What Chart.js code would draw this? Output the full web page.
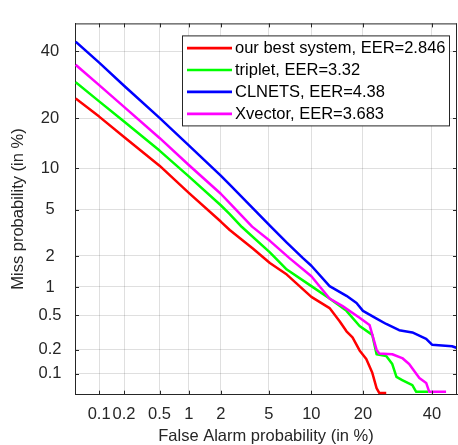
<!DOCTYPE html>
<html><head><meta charset="utf-8">
<script src="https://cdn.jsdelivr.net/npm/chart.js@4/dist/chart.umd.min.js"></script>
<style>html,body{margin:0;padding:0;background:#fff}#wrap{width:458px;height:445px;position:relative}</style>
</head><body><div id="wrap"><canvas id="c" width="458" height="445"></canvas></div>
<script>
// ---- data (percent) ----
const seriesNames = ['our best system, EER=2.846', 'triplet, EER=3.32', 'CLNETS, EER=4.38', 'Xvector, EER=3.683'];
const seriesColors = ['#ff0000', '#00ff00', '#0000ff', '#ff00ff'];

const bestFA   = [0.05,0.1,0.2,0.5,1,2,2.4,3.75,5.1,6.8,10,13,14.9,16.3,17.6,19.2,20.8,22.3,23.4,24.1,26.0];
const bestMiss = [25.2,20.4,15.7,10.4,6.7,4.0,3.4,2.34,1.72,1.33,0.79,0.60,0.43,0.33,0.28,0.196,0.154,0.103,0.065,0.056,0.056];

const tripletFA   = [0.05,0.1,0.2,0.5,1,2,2.4,3.05,5.1,6.8,10,13,16.3,19.2,22.3,23.4,26.0,27.7,28.9,30.6,33.7,34.9,38.75];
const tripletMiss = [30.0,24.4,19.2,13.0,8.8,5.4,4.6,3.6,2.16,1.49,1.02,0.76,0.56,0.38,0.30,0.176,0.167,0.133,0.091,0.083,0.071,0.058,0.058];

const clnetsFA   = [0.05,0.1,0.2,0.5,1,2,2.4,5.1,6.8,8.8,10,13,16.3,18.5,20,23.4,26,29.7,33.7,38.1,40,46.7,48.4];
const clnetsMiss = [43.3,36.2,28.9,20.1,14.0,8.9,7.7,3.7,2.64,1.91,1.62,1.02,0.81,0.68,0.56,0.46,0.40,0.34,0.32,0.27,0.23,0.22,0.21];

const xvectorFA   = [0.05,0.1,0.2,0.5,1,2,2.4,3.7,5.1,7.1,10,13,15.5,19.2,21.6,23.4,24.1,27.7,30.6,32.7,35.9,38.1,39.1,44.7];
const xvectorMiss = [35.5,29.1,22.9,15.5,10.5,6.6,5.6,3.63,2.74,1.91,1.28,0.76,0.63,0.47,0.39,0.2,0.18,0.176,0.158,0.133,0.088,0.076,0.058,0.058];

const tickLabels = [0.1,0.2,0.5,1,2,5,10,20,40];
const xLimits = [0.049, 48.4];
const yLimits = [0.053, 49.7];

// ---- normal deviate (probit) transform for DET axes ----
function probit(p){
  const a=[-3.969683028665376e+01,2.209460984245205e+02,-2.759285104469687e+02,1.383577518672690e+02,-3.066479806614716e+01,2.506628277459239e+00];
  const b=[-5.447609879822406e+01,1.615858368580409e+02,-1.556989798598866e+02,6.680131188771972e+01,-1.328068155288572e+01];
  const c=[-7.784894002430293e-03,-3.223964580411365e-01,-2.400758277161838e+00,-2.549732539343734e+00,4.374664141464968e+00,2.938163982698783e+00];
  const d=[7.784695709041462e-03,3.224671290700398e-01,2.445134137142996e+00,3.754408661907416e+00];
  const pl=0.02425, ph=1-pl; let q,r;
  if(p<pl){q=Math.sqrt(-2*Math.log(p));return (((((c[0]*q+c[1])*q+c[2])*q+c[3])*q+c[4])*q+c[5])/((((d[0]*q+d[1])*q+d[2])*q+d[3])*q+1);}
  if(p<=ph){q=p-0.5;r=q*q;return (((((a[0]*r+a[1])*r+a[2])*r+a[3])*r+a[4])*r+a[5])*q/(((((b[0]*r+b[1])*r+b[2])*r+b[3])*r+b[4])*r+1);}
  q=Math.sqrt(-2*Math.log(1-p));return -(((((c[0]*q+c[1])*q+c[2])*q+c[3])*q+c[4])*q+c[5])/((((d[0]*q+d[1])*q+d[2])*q+d[3])*q+1);
}
const pct = v => probit(v/100);
const toPts = (fa, miss) => fa.map((v,i)=>({x:pct(v), y:pct(miss[i])}));

const allFA = [bestFA, tripletFA, clnetsFA, xvectorFA];
const allMiss = [bestMiss, tripletMiss, clnetsMiss, xvectorMiss];
const drawOrder = [3,2,1,0];

const FONT = '"Liberation Sans", Arial, Helvetica, sans-serif';
const FS = 16.5;
const AX = '#262626';

const framePlugin = {
  id:'frame',
  afterDatasetsDraw(chart){
    const {ctx, chartArea:a, scales} = chart;
    ctx.save();
    ctx.strokeStyle = AX; ctx.lineWidth = 1;
    ctx.beginPath();
    ctx.moveTo(a.left, a.top+0.5); ctx.lineTo(a.right, a.top+0.5);
    ctx.moveTo(a.right-0.5, a.top); ctx.lineTo(a.right-0.5, a.bottom);
    // inward tick marks
    tickLabels.forEach(v=>{
      const px = Math.round(scales.x.getPixelForValue(pct(v)))+0.5;
      ctx.moveTo(px, a.bottom); ctx.lineTo(px, a.bottom-4);
      ctx.moveTo(px, a.top); ctx.lineTo(px, a.top+4);
      const py = Math.round(scales.y.getPixelForValue(pct(v)))+0.5;
      ctx.moveTo(a.left, py); ctx.lineTo(a.left+4, py);
      ctx.moveTo(a.right, py); ctx.lineTo(a.right-4, py);
    });
    ctx.stroke();
    // legend
    const L = a.right - 274.5, T = a.top + 12.5, W = 267, H = 90;
    ctx.fillStyle = '#fff';
    ctx.fillRect(L, T, W, H);
    ctx.strokeStyle = AX; ctx.lineWidth = 1;
    ctx.strokeRect(L, T, W, H);
    ctx.font = FS + 'px ' + FONT;
    ctx.textBaseline = 'middle'; ctx.textAlign = 'left';
    chart.data.datasets.forEach((ds,i)=>{
      const y = T + 12.2 + i*21.9;
      ctx.strokeStyle = ds.borderColor; ctx.lineWidth = 2.7;
      ctx.beginPath(); ctx.moveTo(L+4.5, y); ctx.lineTo(L+49.5, y); ctx.stroke();
      ctx.fillStyle = '#000';
      ctx.fillText(ds.label, L+52.5, y+0.5);
    });
    ctx.restore();
  }
};

new Chart(document.getElementById('c'), {
  type:'line',
  data:{
    datasets: seriesNames.map((n,i)=>({
      label:n, data:toPts(allFA[i], allMiss[i]), borderColor:seriesColors[i],
      borderWidth:2.5, pointRadius:0, fill:false, tension:0, clip:0, order:drawOrder[i],
      borderJoinStyle:'round', borderCapStyle:'butt'
    }))
  },
  options:{
    responsive:false, animation:false, devicePixelRatio:1,
    layout:{padding:{top:9,right:1,left:0,bottom:0}},
    plugins:{legend:{display:false}, tooltip:{enabled:false}},
    scales:{
      x:{
        type:'linear', min:pct(xLimits[0]), max:pct(xLimits[1]),
        afterBuildTicks:s=>{s.ticks = tickLabels.map(v=>({value:pct(v)}));},
        afterFit:s=>{s.height = 50.3;},
        ticks:{autoSkip:false, maxRotation:0, minRotation:0, padding:9.5, color:AX,
          font:{family:FONT, size:FS}, callback:(v,i)=>String(tickLabels[i])},
        grid:{color:'rgba(38,38,38,0.15)', drawTicks:false},
        border:{display:true, color:AX, width:1},
        title:{display:true, text:'False Alarm probability (in %)', color:AX,
          font:{family:FONT, size:FS}, padding:{top:0,bottom:-1}}
      },
      y:{
        type:'linear', min:pct(yLimits[0]), max:pct(yLimits[1]),
        afterBuildTicks:s=>{s.ticks = tickLabels.map(v=>({value:pct(v)}));},
        afterFit:s=>{s.width = 75;},
        ticks:{autoSkip:false, crossAlign:'center', padding:13.5, color:AX,
          font:{family:FONT, size:FS}, callback:(v,i)=>String(tickLabels[i])},
        grid:{color:'rgba(38,38,38,0.15)', drawTicks:false},
        border:{display:true, color:AX, width:1},
        title:{display:true, text:'Miss probability (in %)', color:AX,
          font:{family:FONT, size:FS}, padding:{top:8.5,bottom:0}}
      }
    }
  },
  plugins:[framePlugin]
});
</script></body></html>
